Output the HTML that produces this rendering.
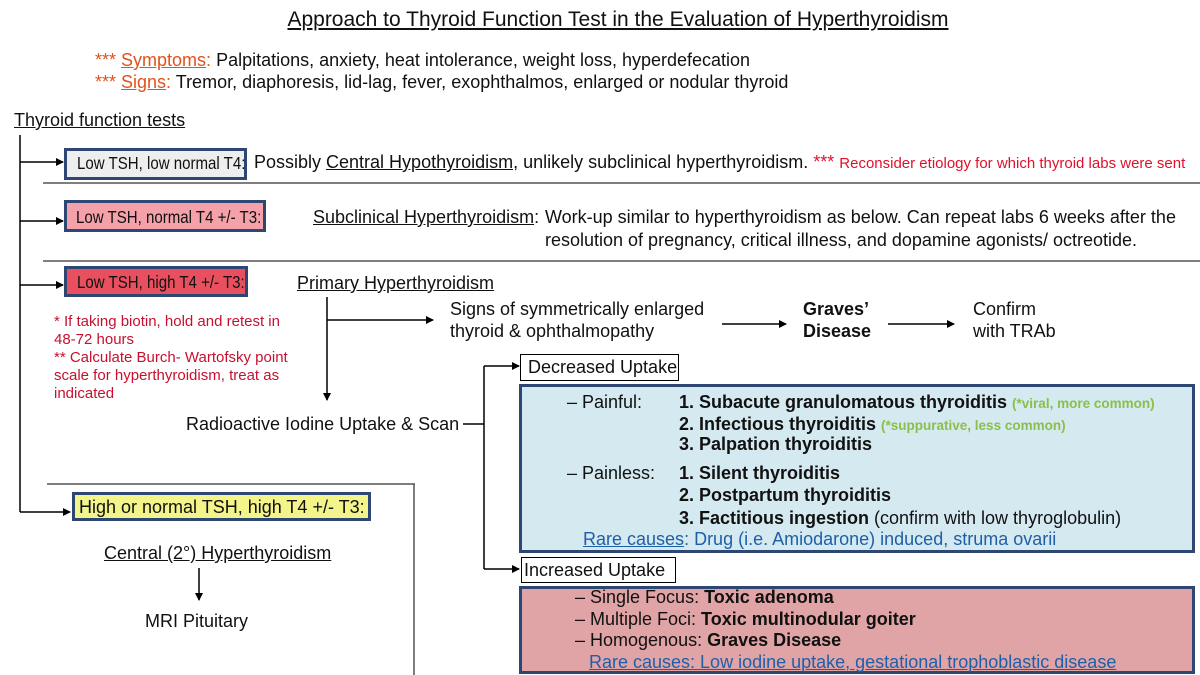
<!DOCTYPE html>
<html><head><meta charset="utf-8"><style>
body{margin:0;width:1200px;height:675px;background:#fff;position:relative;overflow:hidden;font-family:"Liberation Sans",Arial,sans-serif;color:#111;}
.t{position:absolute;white-space:nowrap;font-size:18px;line-height:20px;}
.u{text-decoration:underline;}
.b{font-weight:bold;}
.box{position:absolute;box-sizing:border-box;border:3px solid #2d4672;}
.red{color:#c8102e;}
.grn{color:#8bbf4a;font-size:13.5px;font-weight:bold;}
.blue{color:#1f5fa8;}
.lbl{font-size:17.5px;transform:scaleX(0.86);transform-origin:0 0;}
svg{position:absolute;left:0;top:0;}
</style></head><body>
<svg width="1200" height="675">
<defs><marker id="a" markerWidth="8" markerHeight="8" refX="7" refY="4" orient="auto" markerUnits="userSpaceOnUse"><path d="M0,0 L8,4 L0,8z" fill="#000"/></marker></defs>
<g stroke="#000" stroke-width="1.5" fill="none">
<line x1="20" y1="135" x2="20" y2="512"/>
<line x1="20" y1="162" x2="63" y2="162" marker-end="url(#a)"/>
<line x1="20" y1="221" x2="63" y2="221" marker-end="url(#a)"/>
<line x1="20" y1="285" x2="63" y2="285" marker-end="url(#a)"/>
<line x1="20" y1="512" x2="70" y2="512" marker-end="url(#a)"/>
<line x1="327" y1="297" x2="327" y2="400" marker-end="url(#a)"/>
<line x1="327" y1="320" x2="433" y2="320" marker-end="url(#a)"/>
<line x1="722" y1="324" x2="786" y2="324" marker-end="url(#a)"/>
<line x1="888" y1="324" x2="954" y2="324" marker-end="url(#a)"/>
<line x1="463" y1="424" x2="484" y2="424"/>
<line x1="484" y1="366" x2="484" y2="569"/>
<line x1="484" y1="366" x2="519" y2="366" marker-end="url(#a)"/>
<line x1="484" y1="569" x2="519" y2="569" marker-end="url(#a)"/>
<line x1="199" y1="568" x2="199" y2="600" marker-end="url(#a)"/>
</g>
<g stroke="#555" stroke-width="1.5">
<line x1="43" y1="183" x2="1200" y2="183"/>
<line x1="43" y1="261" x2="1200" y2="261"/>
<line x1="47" y1="484" x2="415" y2="484"/>
<line x1="414" y1="484" x2="414" y2="675"/>
</g>
</svg>
<div class="t u" style="left:0;width:1236px;text-align:center;top:8px;font-size:21px;line-height:24px;">Approach to Thyroid Function Test in the Evaluation of Hyperthyroidism</div>
<div class="t" style="left:95px;top:50px;"><span style="color:#e0531c">*** </span><span class="u" style="color:#e0531c">Symptoms</span><span style="color:#e0531c">:</span> Palpitations, anxiety, heat intolerance, weight loss, hyperdefecation</div>
<div class="t" style="left:95px;top:72px;"><span style="color:#e0531c">*** </span><span class="u" style="color:#e0531c">Signs</span><span style="color:#e0531c">:</span> Tremor, diaphoresis, lid-lag, fever, exophthalmos, enlarged or nodular thyroid</div>
<div class="t u" style="left:14px;top:110px;">Thyroid function tests</div>

<div class="box" style="left:64px;top:148px;width:183px;height:32px;background:#eeeeee;"></div>
<div class="t lbl" style="left:77px;top:153px;">Low TSH, low normal T4:</div>
<div class="t" style="left:254px;top:152px;">Possibly <span class="u">Central Hypothyroidism,</span> unlikely subclinical hyperthyroidism. <span style="color:#e0102a">***</span> <span style="color:#e0102a;font-size:15px">Reconsider etiology for which thyroid labs were sent</span></div>

<div class="box" style="left:64px;top:200px;width:202px;height:32px;background:#f5a1a9;"></div>
<div class="t lbl" style="left:76px;top:207px;">Low TSH, normal T4 +/- T3:</div>
<div class="t" style="left:313px;top:207px;"><span class="u">Subclinical Hyperthyroidism</span>:</div>
<div class="t" style="left:545px;top:207px;">Work-up similar to hyperthyroidism as below. Can repeat labs 6 weeks after the</div>
<div class="t" style="left:545px;top:230px;">resolution of pregnancy, critical illness, and dopamine agonists/ octreotide.</div>

<div class="box" style="left:64px;top:266px;width:184px;height:31px;background:#e8505f;"></div>
<div class="t lbl" style="left:77px;top:272px;">Low TSH, high T4 +/- T3:</div>
<div class="t u" style="left:297px;top:273px;">Primary Hyperthyroidism</div>

<div class="t red" style="left:54px;top:313px;font-size:15px;line-height:18px;">* If taking biotin, hold and retest in<br>48-72 hours<br>** Calculate Burch- Wartofsky point<br>scale for hyperthyroidism, treat as<br>indicated</div>

<div class="t" style="left:450px;top:298px;line-height:22px;">Signs of symmetrically enlarged<br>thyroid &amp; ophthalmopathy</div>
<div class="t b" style="left:803px;top:298px;line-height:22px;">Graves’<br>Disease</div>
<div class="t" style="left:973px;top:298px;line-height:22px;">Confirm<br>with TRAb</div>

<div class="t" style="left:186px;top:414px;">Radioactive Iodine Uptake &amp; Scan</div>

<div class="box" style="left:520px;top:354px;width:159px;height:27px;border:1.5px solid #000;background:#fff;"></div>
<div class="t" style="left:528px;top:357px;">Decreased Uptake</div>
<div class="box" style="left:519px;top:384px;width:676px;height:169px;background:#d4e9f0;"></div>
<div class="t" style="left:567px;top:392px;">– Painful:</div>
<div class="t b" style="left:679px;top:392px;">1. Subacute granulomatous thyroiditis <span class="grn">(*viral, more common)</span></div>
<div class="t b" style="left:679px;top:414px;">2. Infectious thyroiditis <span class="grn">(*suppurative, less common)</span></div>
<div class="t b" style="left:679px;top:434px;">3. Palpation thyroiditis</div>
<div class="t" style="left:567px;top:463px;">– Painless:</div>
<div class="t b" style="left:679px;top:463px;">1. Silent thyroiditis</div>
<div class="t b" style="left:679px;top:485px;">2. Postpartum thyroiditis</div>
<div class="t" style="left:679px;top:508px;"><b>3. Factitious ingestion</b> (confirm with low thyroglobulin)</div>
<div class="t blue" style="left:583px;top:529px;"><span class="u">Rare causes</span>: Drug (i.e. Amiodarone) induced, struma ovarii</div>

<div class="box" style="left:521px;top:557px;width:155px;height:26px;border:1.5px solid #000;background:#fff;"></div>
<div class="t" style="left:524px;top:560px;">Increased Uptake</div>
<div class="box" style="left:519px;top:586px;width:676px;height:88px;background:#e0a4a6;"></div>
<div class="t" style="left:575px;top:587px;">– Single Focus: <b>Toxic adenoma</b></div>
<div class="t" style="left:575px;top:609px;">– Multiple Foci: <b>Toxic multinodular goiter</b></div>
<div class="t" style="left:575px;top:630px;">– Homogenous: <b>Graves Disease</b></div>
<div class="t blue u" style="left:589px;top:652px;">Rare causes: Low iodine uptake, gestational trophoblastic disease</div>

<div class="box" style="left:72px;top:492px;width:299px;height:29px;background:#f3f48a;"></div>
<div class="t" style="left:79px;top:497px;">High or normal TSH, high T4 +/- T3:</div>
<div class="t u" style="left:104px;top:543px;">Central (2°) Hyperthyroidism</div>
<div class="t" style="left:145px;top:611px;">MRI Pituitary</div>
</body></html>
